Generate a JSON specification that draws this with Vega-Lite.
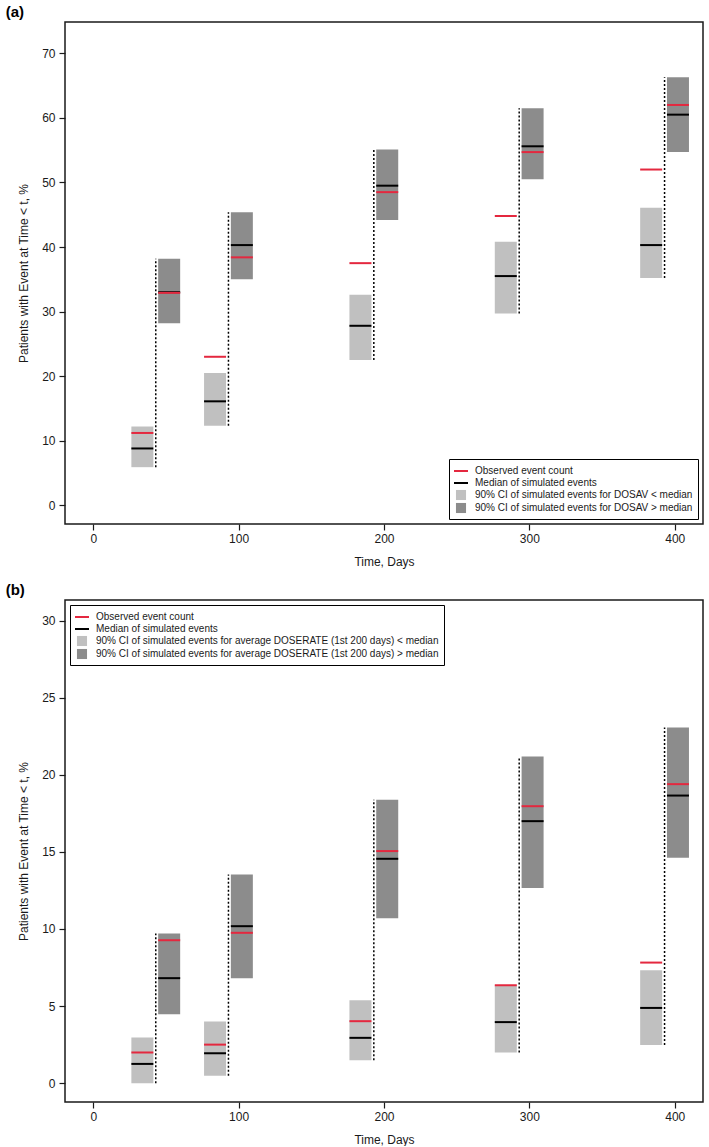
{
  "$schema": "https://vega.github.io/schema/vega-lite/v6.json",
  "padding": {"left": 4, "top": 4, "right": 0, "bottom": 0},
  "datasets": {
    "a": [
      {"day": 43, "lt_lo": 5.9, "lt_hi": 12.2, "lt_med": 8.8, "lt_obs": 11.2, "gt_lo": 28.2, "gt_hi": 38.2, "gt_med": 33.0, "gt_obs": 32.9},
      {"day": 93, "lt_lo": 12.3, "lt_hi": 20.5, "lt_med": 16.1, "lt_obs": 23.0, "gt_lo": 35.0, "gt_hi": 45.4, "gt_med": 40.3, "gt_obs": 38.4},
      {"day": 193, "lt_lo": 22.5, "lt_hi": 32.6, "lt_med": 27.8, "lt_obs": 37.5, "gt_lo": 44.2, "gt_hi": 55.1, "gt_med": 49.5, "gt_obs": 48.5},
      {"day": 293, "lt_lo": 29.7, "lt_hi": 40.8, "lt_med": 35.5, "lt_obs": 44.8, "gt_lo": 50.5, "gt_hi": 61.5, "gt_med": 55.6, "gt_obs": 54.7},
      {"day": 393, "lt_lo": 35.2, "lt_hi": 46.1, "lt_med": 40.3, "lt_obs": 52.0, "gt_lo": 54.7, "gt_hi": 66.3, "gt_med": 60.5, "gt_obs": 62.0}
    ],
    "b": [
      {"day": 43, "lt_lo": 0.0, "lt_hi": 2.96, "lt_med": 1.25, "lt_obs": 1.99, "gt_lo": 4.47, "gt_hi": 9.7, "gt_med": 6.81, "gt_obs": 9.27},
      {"day": 93, "lt_lo": 0.49, "lt_hi": 4.0, "lt_med": 1.94, "lt_obs": 2.5, "gt_lo": 6.81, "gt_hi": 13.53, "gt_med": 10.18, "gt_obs": 9.75},
      {"day": 193, "lt_lo": 1.49, "lt_hi": 5.38, "lt_med": 2.94, "lt_obs": 4.02, "gt_lo": 10.7, "gt_hi": 18.37, "gt_med": 14.55, "gt_obs": 15.05},
      {"day": 293, "lt_lo": 1.99, "lt_hi": 6.35, "lt_med": 3.96, "lt_obs": 6.35, "gt_lo": 12.65, "gt_hi": 21.18, "gt_med": 16.99, "gt_obs": 17.96},
      {"day": 393, "lt_lo": 2.48, "lt_hi": 7.33, "lt_med": 4.88, "lt_obs": 7.82, "gt_lo": 14.61, "gt_hi": 23.06, "gt_med": 18.65, "gt_obs": 19.39}
    ]
  },
  "vconcat": [
    {
      "title": {"text": "(a)", "anchor": "start", "frame": "bounds", "fontSize": 15, "fontWeight": "bold", "offset": 2, "dx": -12, "color": "#000"},
      "width": 638,
      "height": 502,
      "data": {"name": "a"},
      "encoding": {
        "x": {"field": "day", "type": "quantitative", "scale": {"domain": [-16, 416], "nice": false, "zero": false},
              "axis": {"values": [0, 100, 200, 300, 400], "title": "Time, Days", "labelPadding": 3, "titlePadding": 12}}
      },
      "layer": [
        {
          "mark": {"type": "bar", "width": 22, "xOffset": -13.4},
          "encoding": {
            "y": {"field": "lt_lo", "type": "quantitative", "scale": {"domain": [-2.9, 74.85], "nice": false, "zero": false},
                  "axis": {"values": [0, 10, 20, 30, 40, 50, 60, 70], "title": "Patients with Event at Time < t, %", "titlePadding": 11, "labelPadding": 4}},
            "y2": {"field": "lt_hi"},
            "color": {"datum": "90% CI of simulated events for DOSAV < median", "type": "nominal",
              "scale": {"domain": ["Observed event count", "Median of simulated events", "90% CI of simulated events for DOSAV < median", "90% CI of simulated events for DOSAV > median"],
                        "range": ["#e4283f", "#000000", "#c0c0c0", "#8c8c8c"]},
              "legend": {"title": null, "orient": "bottom-right", "offset": 5}}
          }
        },
        {
          "mark": {"type": "bar", "width": 22, "xOffset": 13.4},
          "encoding": {
            "y": {"field": "gt_lo", "type": "quantitative"},
            "y2": {"field": "gt_hi"},
            "color": {"datum": "90% CI of simulated events for DOSAV > median", "type": "nominal"}
          }
        },
        {
          "mark": {"type": "rule", "strokeDash": [2, 2], "strokeWidth": 1.5, "color": "#000"},
          "encoding": {
            "y": {"field": "lt_lo", "type": "quantitative"},
            "y2": {"field": "gt_hi"}
          }
        },
        {
          "mark": {"type": "tick", "orient": "horizontal", "size": 22, "thickness": 2, "xOffset": -13.4, "opacity": 1},
          "encoding": {"y": {"field": "lt_med", "type": "quantitative"}, "color": {"datum": "Median of simulated events", "type": "nominal"}}
        },
        {
          "mark": {"type": "tick", "orient": "horizontal", "size": 22, "thickness": 2, "xOffset": 13.4, "opacity": 1},
          "encoding": {"y": {"field": "gt_med", "type": "quantitative"}, "color": {"datum": "Median of simulated events", "type": "nominal"}}
        },
        {
          "mark": {"type": "tick", "orient": "horizontal", "size": 22, "thickness": 2, "xOffset": -13.4, "opacity": 1},
          "encoding": {"y": {"field": "lt_obs", "type": "quantitative"}, "color": {"datum": "Observed event count", "type": "nominal"}}
        },
        {
          "mark": {"type": "tick", "orient": "horizontal", "size": 22, "thickness": 2, "xOffset": 13.4, "opacity": 1},
          "encoding": {"y": {"field": "gt_obs", "type": "quantitative"}, "color": {"datum": "Observed event count", "type": "nominal"}}
        },
        {
          "mark": {"type": "point", "opacity": 0, "filled": true},
          "encoding": {
            "y": {"field": "lt_obs", "type": "quantitative"},
            "shape": {"datum": "Observed event count", "type": "nominal",
              "scale": {"domain": ["Observed event count", "Median of simulated events", "90% CI of simulated events for DOSAV < median", "90% CI of simulated events for DOSAV > median"],
                        "range": ["M-1,-0.14H1V0.14H-1Z", "M-1,-0.14H1V0.14H-1Z", "M-0.72,-0.72H0.72V0.72H-0.72Z", "M-0.72,-0.72H0.72V0.72H-0.72Z"]},
              "legend": {"title": null, "orient": "bottom-right", "offset": 5}}
          }
        }
      ]
    },
    {
      "title": {"text": "(b)", "anchor": "start", "frame": "bounds", "fontSize": 15, "fontWeight": "bold", "offset": 2, "dx": -12, "color": "#000"},
      "width": 638,
      "height": 502,
      "data": {"name": "b"},
      "encoding": {
        "x": {"field": "day", "type": "quantitative", "scale": {"domain": [-16, 416], "nice": false, "zero": false},
              "axis": {"values": [0, 100, 200, 300, 400], "title": "Time, Days", "labelPadding": 3, "titlePadding": 12}}
      },
      "layer": [
        {
          "mark": {"type": "bar", "width": 22, "xOffset": -13.4},
          "encoding": {
            "y": {"field": "lt_lo", "type": "quantitative", "scale": {"domain": [-1.22, 31.33], "nice": false, "zero": false},
                  "axis": {"values": [0, 5, 10, 15, 20, 25, 30], "title": "Patients with Event at Time < t, %", "titlePadding": 11, "labelPadding": 4}},
            "y2": {"field": "lt_hi"},
            "color": {"datum": "90% CI of simulated events for average DOSERATE (1st 200 days) < median", "type": "nominal",
              "scale": {"domain": ["Observed event count", "Median of simulated events", "90% CI of simulated events for average DOSERATE (1st 200 days) < median", "90% CI of simulated events for average DOSERATE (1st 200 days) > median"],
                        "range": ["#e4283f", "#000000", "#c0c0c0", "#8c8c8c"]},
              "legend": {"title": null, "orient": "top-left", "offset": 5}}
          }
        },
        {
          "mark": {"type": "bar", "width": 22, "xOffset": 13.4},
          "encoding": {
            "y": {"field": "gt_lo", "type": "quantitative"},
            "y2": {"field": "gt_hi"},
            "color": {"datum": "90% CI of simulated events for average DOSERATE (1st 200 days) > median", "type": "nominal"}
          }
        },
        {
          "mark": {"type": "rule", "strokeDash": [2, 2], "strokeWidth": 1.5, "color": "#000"},
          "encoding": {
            "y": {"field": "lt_lo", "type": "quantitative"},
            "y2": {"field": "gt_hi"}
          }
        },
        {
          "mark": {"type": "tick", "orient": "horizontal", "size": 22, "thickness": 2, "xOffset": -13.4, "opacity": 1},
          "encoding": {"y": {"field": "lt_med", "type": "quantitative"}, "color": {"datum": "Median of simulated events", "type": "nominal"}}
        },
        {
          "mark": {"type": "tick", "orient": "horizontal", "size": 22, "thickness": 2, "xOffset": 13.4, "opacity": 1},
          "encoding": {"y": {"field": "gt_med", "type": "quantitative"}, "color": {"datum": "Median of simulated events", "type": "nominal"}}
        },
        {
          "mark": {"type": "tick", "orient": "horizontal", "size": 22, "thickness": 2, "xOffset": -13.4, "opacity": 1},
          "encoding": {"y": {"field": "lt_obs", "type": "quantitative"}, "color": {"datum": "Observed event count", "type": "nominal"}}
        },
        {
          "mark": {"type": "tick", "orient": "horizontal", "size": 22, "thickness": 2, "xOffset": 13.4, "opacity": 1},
          "encoding": {"y": {"field": "gt_obs", "type": "quantitative"}, "color": {"datum": "Observed event count", "type": "nominal"}}
        },
        {
          "mark": {"type": "point", "opacity": 0, "filled": true},
          "encoding": {
            "y": {"field": "lt_obs", "type": "quantitative"},
            "shape": {"datum": "Observed event count", "type": "nominal",
              "scale": {"domain": ["Observed event count", "Median of simulated events", "90% CI of simulated events for average DOSERATE (1st 200 days) < median", "90% CI of simulated events for average DOSERATE (1st 200 days) > median"],
                        "range": ["M-1,-0.14H1V0.14H-1Z", "M-1,-0.14H1V0.14H-1Z", "M-0.72,-0.72H0.72V0.72H-0.72Z", "M-0.72,-0.72H0.72V0.72H-0.72Z"]},
              "legend": {"title": null, "orient": "top-left", "offset": 5}}
          }
        }
      ]
    }
  ],
  "resolve": {"scale": {"y": "independent", "color": "independent", "shape": "independent"}, "legend": {"color": "independent", "shape": "independent"}},
  "spacing": 14,
  "config": {
    "font": "Liberation Sans",
    "view": {"stroke": "#1a1a1a", "strokeWidth": 1.5},
    "axis": {"grid": false, "domain": false, "tickColor": "#1a1a1a", "tickSize": 6, "tickWidth": 1.2, "labelFontSize": 12, "labelColor": "#1a1a1a", "titleFontSize": 12, "titleFontWeight": "normal", "titleColor": "#1a1a1a"},
    "legend": {"strokeColor": "#000", "padding": 5, "labelFontSize": 10, "labelLimit": 500, "labelColor": "#1a1a1a", "labelOffset": 7, "rowPadding": 0, "symbolSize": 196, "symbolOpacity": 1, "symbolStrokeWidth": 0}
  }
}
